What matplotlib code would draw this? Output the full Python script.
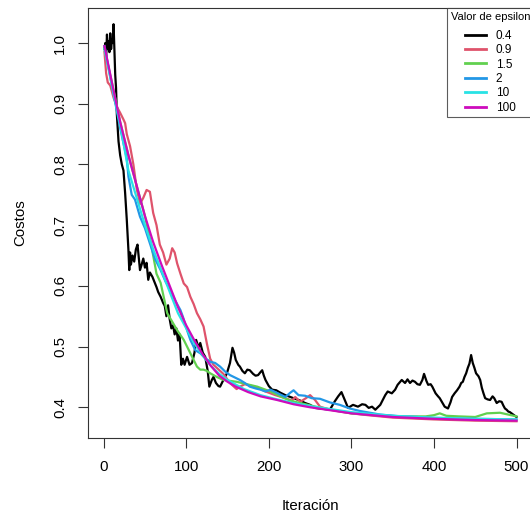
import matplotlib
matplotlib.use('Agg')
import matplotlib.pyplot as plt

plt.rcParams['font.family'] = ['Liberation Sans', 'DejaVu Sans']

# epsilon values and colours (R 4 palette)
labels = ['0.4', '0.9', '1.5', '2', '10', '100']
colors = ['#000000', '#DF536B', '#61D04F', '#2297E6', '#28E2E5', '#CD0BBC']

# eps = 0.4 (black)
it_04 = [1, 2, 3, 4, 5, 6, 7, 8, 9, 10, 11, 12, 13, 14, 15, 16, 18, 20, 22, 24, 26, 28, 30, 31,
         32, 33, 35, 37, 39, 41, 43, 44, 46, 48, 50, 52, 54, 56, 59, 62, 64, 66, 69, 72, 74, 76,
         78, 80, 82, 84, 86, 88, 90, 92, 94, 96, 98, 101, 104, 107, 110, 112, 115, 117, 120, 123,
         126, 128, 131, 133, 136, 139, 141, 145, 149, 153, 156, 158, 160, 163, 165, 168, 171, 174,
         177, 181, 184, 187, 190, 192, 194, 196, 200, 204, 209, 214, 220, 226, 232, 238, 244, 250,
         256, 262, 268, 274, 280, 284, 288, 292, 296, 302, 308, 313, 317, 321, 325, 329, 335, 341,
         344, 349, 353, 356, 361, 365, 368, 371, 374, 377, 380, 383, 386, 388, 391, 393, 396, 398,
         402, 405, 407, 410, 413, 417, 420, 422, 425, 428, 431, 433, 435, 437, 439, 441, 443, 445,
         447, 449, 451, 454, 456, 458, 460, 462, 465, 468, 471, 473, 476, 479, 482, 484, 486, 488,
         490, 492, 494, 496, 498, 500]
cost_04 = [0.99, 1.0, 0.975, 1.014, 0.99, 1.003, 0.985, 1.016, 0.99, 1.005, 1.0, 1.031, 0.99, 0.948,
           0.926, 0.882, 0.838, 0.815, 0.80, 0.79, 0.753, 0.709, 0.659, 0.626,
           0.655, 0.635, 0.65, 0.64, 0.66, 0.668, 0.64, 0.626, 0.635, 0.645, 0.63, 0.638, 0.61, 0.622,
           0.615, 0.605, 0.598, 0.59, 0.582, 0.572, 0.567, 0.55,
           0.568, 0.545, 0.53, 0.535, 0.52, 0.53, 0.51, 0.52, 0.47, 0.48, 0.47, 0.483, 0.47, 0.473,
           0.49, 0.511, 0.498, 0.506, 0.49, 0.483,
           0.46, 0.434, 0.445, 0.45, 0.44, 0.435, 0.434, 0.445, 0.455, 0.473, 0.498, 0.49, 0.478,
           0.47, 0.467, 0.46, 0.456, 0.462,
           0.461, 0.455, 0.452, 0.453, 0.458, 0.461, 0.452, 0.445, 0.435, 0.429, 0.428, 0.424, 0.42,
           0.417, 0.414, 0.411, 0.407, 0.404,
           0.399, 0.398, 0.397, 0.396, 0.41, 0.418, 0.425, 0.412, 0.399, 0.404, 0.401, 0.405, 0.404,
           0.399, 0.401, 0.396, 0.404, 0.42,
           0.426, 0.423, 0.429, 0.437, 0.445, 0.44, 0.446, 0.44, 0.444, 0.442, 0.438, 0.437, 0.445,
           0.455, 0.443, 0.437, 0.438, 0.434,
           0.423, 0.418, 0.415, 0.408, 0.401, 0.398, 0.408, 0.417, 0.423, 0.428, 0.434, 0.44, 0.442,
           0.45, 0.456, 0.465, 0.472, 0.486,
           0.473, 0.465, 0.456, 0.451, 0.445, 0.432, 0.423, 0.415, 0.413, 0.412, 0.418, 0.415, 0.407,
           0.41, 0.409, 0.403, 0.398, 0.396,
           0.393, 0.392, 0.39, 0.388, 0.386, 0.384]

# eps = 0.9 (red)
it_09 = [1, 3, 5, 8, 12, 16, 20, 24, 26, 28, 32, 36, 40, 44, 48, 52, 56, 60, 64, 68, 72, 76, 80,
         83, 86, 89, 93, 97, 101, 105, 109, 113, 117, 121, 125, 129, 133, 137, 145, 153, 161, 165,
         171, 177, 187, 196, 208, 220, 228, 232, 238, 245, 250, 256, 262, 274, 286, 300, 320, 350,
         400, 450, 500]
cost_09 = [0.985, 0.95, 0.935, 0.93, 0.91, 0.895, 0.885, 0.874, 0.868, 0.85, 0.83, 0.80, 0.76,
           0.735, 0.745, 0.758, 0.755, 0.72, 0.70, 0.668, 0.655, 0.635, 0.645,
           0.662, 0.655, 0.637, 0.62, 0.604, 0.598, 0.582, 0.57, 0.555, 0.545, 0.533, 0.505, 0.48,
           0.47, 0.465, 0.455, 0.44, 0.43, 0.434,
           0.438, 0.436, 0.432, 0.426, 0.42, 0.415, 0.411, 0.417, 0.409, 0.415, 0.42, 0.412, 0.401,
           0.396, 0.393, 0.39, 0.387, 0.383,
           0.380, 0.378, 0.377]

# eps = 1.5 (green)
it_15 = [1, 10, 20, 30, 40, 50, 58, 64, 69, 77, 89, 97, 105, 113, 117, 121, 125, 129, 137, 145,
         161, 186, 202, 214, 226, 238, 260, 280, 300, 330, 360, 390, 400, 407, 415, 430, 450, 464,
         480, 490, 500]
cost_15 = [0.99, 0.935, 0.87, 0.815, 0.765, 0.715, 0.665, 0.62, 0.605, 0.555, 0.527, 0.511, 0.489,
           0.467, 0.462, 0.462, 0.46, 0.456, 0.45, 0.445,
           0.442, 0.434, 0.426, 0.418, 0.411, 0.407, 0.40, 0.395, 0.39, 0.387, 0.385, 0.385, 0.387,
           0.39, 0.386, 0.385, 0.384, 0.39,
           0.391, 0.388, 0.385]

# eps = 2 (blue)
it_2 = [1, 10, 20, 28, 30, 34, 38, 44, 50, 56, 62, 69, 75, 80, 87, 93, 96, 101, 105, 111, 117,
        123, 129, 135, 141, 147, 153, 165, 171, 177, 184, 190, 196, 202, 211, 220, 226, 230, 236,
        244, 252, 262, 274, 286, 298, 310, 335, 360, 380, 400, 450, 500]
cost_2 = [0.995, 0.93, 0.86, 0.81, 0.78, 0.75, 0.742, 0.714, 0.695, 0.67, 0.645, 0.626, 0.607,
          0.595, 0.575, 0.56, 0.549, 0.527, 0.511, 0.494, 0.489,
          0.481, 0.475, 0.473, 0.467, 0.459, 0.453, 0.445, 0.44, 0.434, 0.431, 0.429, 0.426, 0.429,
          0.423, 0.417, 0.424, 0.428, 0.42,
          0.419, 0.415, 0.414, 0.408, 0.404, 0.398, 0.394, 0.388, 0.385, 0.384, 0.382, 0.381, 0.380]

# eps = 10 (cyan)
it_10 = [1, 10, 20, 30, 40, 50, 60, 70, 80, 90, 100, 110, 120, 130, 140, 150, 170, 190, 210, 230,
         250, 275, 300, 350, 400, 450, 500]
cost_10 = [0.99, 0.93, 0.865, 0.79, 0.745, 0.70, 0.66, 0.625, 0.59, 0.555, 0.53, 0.505, 0.485,
           0.468, 0.455, 0.445, 0.43, 0.42, 0.413, 0.407,
           0.402, 0.397, 0.392, 0.386, 0.383, 0.381, 0.380]

# eps = 100 (magenta)
it_100 = [1, 10, 20, 30, 40, 50, 60, 70, 80, 90, 100, 110, 120, 130, 140, 150, 160, 175, 190, 210,
          230, 250, 275, 300, 350, 400, 450, 500]
cost_100 = [0.995, 0.935, 0.87, 0.815, 0.765, 0.715, 0.672, 0.635, 0.60, 0.565, 0.535, 0.51, 0.487,
            0.468, 0.452, 0.442, 0.434, 0.425, 0.418, 0.412,
            0.405, 0.40, 0.395, 0.39, 0.384, 0.381, 0.379, 0.378]

series = [(it_04, cost_04), (it_09, cost_09), (it_15, cost_15),
          (it_2, cost_2), (it_10, cost_10), (it_100, cost_100)]

fig = plt.figure(figsize=(5.3, 5.17), dpi=100)
ax = fig.add_axes([88 / 530, 79 / 517, 445 / 530, 430 / 517])

for (x, y), c, lab in zip(series, colors, labels):
    ax.plot(x, y, color=c, lw=1.6, label=lab)

ax.set_xlim(-18.96, 519.96)
ax.set_ylim(0.3494, 1.0577)
ax.set_xticks([0, 100, 200, 300, 400, 500])
ax.set_yticks([0.4, 0.5, 0.6, 0.7, 0.8, 0.9, 1.0])
ax.set_yticklabels(['0.4', '0.5', '0.6', '0.7', '0.8', '0.9', '1.0'], rotation=90, va='center')
ax.tick_params(axis='x', length=7, width=0.8, pad=8.5, labelsize=10.8, color='#333333')
ax.tick_params(axis='y', length=7, width=0.8, pad=8, labelsize=10.8, color='#333333')
for s in ax.spines.values():
    s.set_linewidth(0.8)
    s.set_color('#333333')

ax.set_xlabel('Iteración', fontsize=10.8)
ax.set_ylabel('Costos', fontsize=10.8)
ax.xaxis.set_label_coords(0.5, (438 - 499) / 430)
ax.yaxis.set_label_coords((27 - 88) / 445, (438 - 223) / 430)

leg = ax.legend(loc='upper left', bbox_to_anchor=(447 / 530, 1 - 8 / 517),
                bbox_transform=fig.transFigure, title='Valor de epsilon',
                fontsize=8.5, title_fontsize=8, frameon=True, fancybox=False,
                handlelength=1.8, handletextpad=0.8, labelspacing=0.2,
                borderpad=0.3, borderaxespad=0)
leg._legend_box.sep = 6  # extra room below the title, as in the R legend
leg.get_frame().set_edgecolor('#333333')
leg.get_frame().set_linewidth(0.8)
for l in leg.get_lines():
    l.set_linewidth(2)

plt.savefig('out.png', dpi=100)
